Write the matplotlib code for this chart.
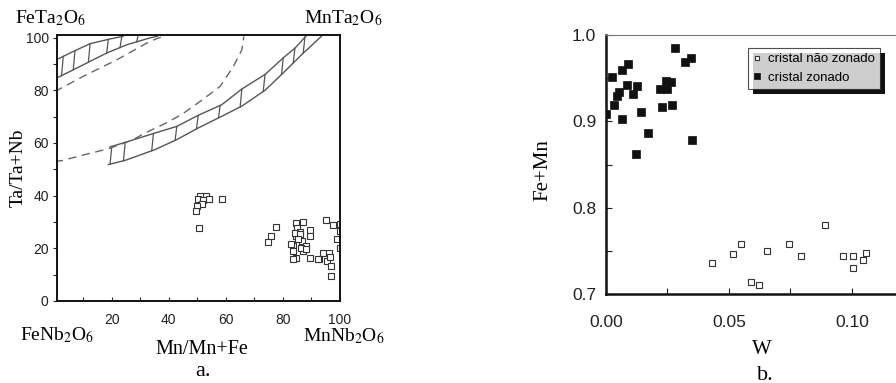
import numpy as np
import matplotlib
matplotlib.use("Agg")
import matplotlib.pyplot as plt
from matplotlib.patches import Rectangle

plt.rcParams['font.family'] = ['Liberation Sans', 'DejaVu Sans']
plt.rcParams['mathtext.fontset'] = 'stix'

# ---------------- Panel a data ----------------
mn_frac = [52.9, 54.0, 51.1, 50.3, 52.0, 51.7, 50.0, 49.6, 58.5, 50.5,
           77.6, 75.9, 74.7,
           84.7, 87.0, 84.9, 85.9, 84.7, 89.6, 89.6, 86.8, 83.5, 88.2, 83.5, 87.0,
           84.5, 89.4, 95.0, 97.4, 100.0, 100.0, 98.8, 100.0, 94.1, 96.2, 92.7,
           95.3, 96.7, 96.7, 84.1, 85.9, 85.3, 82.9, 86.5, 88.2, 83.5, 92.3, 96.5]
ta_frac = [39.9, 38.9, 39.9, 38.6, 38.3, 36.7, 35.9, 34.2, 38.9, 27.9,
           28.2, 24.5, 22.5,
           29.8, 30.0, 27.9, 26.3, 24.7, 26.9, 24.5, 22.8, 21.0, 21.0, 19.1, 19.1,
           16.2, 16.2, 30.8, 28.8, 29.2, 26.6, 23.5, 20.3, 18.2, 18.2, 15.9,
           15.3, 13.1, 9.4, 26.0, 25.4, 23.5, 21.6, 20.3, 19.7, 15.9, 15.9, 16.6]

# hatched band (lower, mid diagram)
band2_up_x = [19.4, 25.8, 35.2, 42.8, 50.3, 58.5, 65.6, 73.7, 80.1, 84.2, 88.0]
band2_up_y = [58.5, 60.6, 63.8, 66.3, 70.5, 74.5, 80.5, 86.0, 92.3, 96.0, 100.5]
band2_lo_x = [18.8, 24.7, 35.2, 42.8, 50.3, 58.5, 65.6, 73.7, 80.1, 87.0, 93.5]
band2_lo_y = [51.8, 53.4, 57.5, 61.3, 65.7, 70.1, 74.0, 80.0, 86.6, 94.0, 100.5]
band2_hatch_x = [20.0, 24.7, 34.6, 42.8, 50.3, 58.0, 65.6, 73.7, 80.1, 84.2, 87.7]

# hatched band (upper left)
band1_up_x = [0.0, 6.6, 12.4, 19.4, 24.0]
band1_up_y = [91.3, 94.8, 97.7, 99.5, 100.5]
band1_lo_x = [0.0, 7.1, 12.4, 18.3, 25.3, 33.4, 36.0]
band1_lo_y = [84.3, 88.1, 91.0, 94.2, 97.3, 99.9, 100.5]
band1_hatch_x = [3.0, 7.1, 12.4, 18.8, 23.5, 29.3]

# dashed curves
dash1_x = [0.0, 10.0, 21.8, 33.4, 38.0]
dash1_y = [79.5, 85.3, 91.6, 98.6, 100.5]
dash2_x = [0.0, 2.5, 10.6, 18.8, 27.0, 31.7, 38.7, 44.5, 51.0, 58.0, 62.6, 65.6, 66.3]
dash2_y = [53.0, 53.3, 55.6, 57.8, 61.0, 63.8, 67.4, 70.8, 75.8, 81.5, 89.0, 95.4, 100.5]

a_xticks = [20, 40, 60, 80, 100]
a_yticks = [0, 20, 40, 60, 80, 100]

# ---------------- Panel b data ----------------
zon_w = [0.0000, 0.0026, 0.0034, 0.0046, 0.0053, 0.0064, 0.0065, 0.0091, 0.0084,
         0.0111, 0.0127, 0.0122, 0.0144, 0.0171, 0.0221, 0.0228, 0.0245, 0.0248,
         0.0263, 0.0270, 0.0282, 0.0321, 0.0347, 0.0350]
zon_femn = [0.909, 0.951, 0.919, 0.929, 0.934, 0.959, 0.903, 0.966, 0.942,
            0.932, 0.941, 0.862, 0.911, 0.887, 0.937, 0.917, 0.947, 0.937,
            0.946, 0.919, 0.985, 0.969, 0.973, 0.878]
nz_w = [0.0432, 0.0516, 0.0550, 0.0588, 0.0623, 0.0656, 0.0743, 0.0794, 0.0889,
        0.0965, 0.1004, 0.1004, 0.1045, 0.1056]
nz_femn = [0.736, 0.746, 0.758, 0.714, 0.710, 0.750, 0.758, 0.744, 0.780,
           0.744, 0.744, 0.730, 0.739, 0.748]
b_xticks = [0.00, 0.05, 0.10]
b_yticks = [0.7, 0.8, 0.9, 1.0]
legend_labels = ['cristal não zonado', 'cristal zonado']

W, H = 896, 383
fig = plt.figure(figsize=(W / 100, H / 100), dpi=100)

def fx(px):
    return px / W

def fy(py):
    return 1 - py / H

# ---------------- Panel a ----------------
axa = fig.add_axes([fx(57), fy(301), fx(340) - fx(57), fy(35) - fy(301)])
axa.set_xlim(0.8, 100)
axa.set_ylim(0, 101)
lc = '#555555'
axa.plot(band2_up_x, band2_up_y, color=lc, lw=1.0)
axa.plot(band2_lo_x, band2_lo_y, color=lc, lw=1.0)
for hx in band2_hatch_x:
    yl = np.interp(hx - 0.6, band2_lo_x, band2_lo_y)
    yu = min(np.interp(hx, band2_up_x, band2_up_y), 101)
    axa.plot([hx - 0.6, hx], [yl, yu], color=lc, lw=0.9)
axa.plot(band1_up_x, band1_up_y, color=lc, lw=1.0)
axa.plot(band1_lo_x, band1_lo_y, color=lc, lw=1.0)
for hx in band1_hatch_x:
    yl = np.interp(hx - 0.6, band1_lo_x, band1_lo_y)
    yu = np.interp(hx, band1_up_x, band1_up_y) if hx <= band1_up_x[-1] else 101
    axa.plot([hx - 0.6, hx], [yl, yu], color=lc, lw=0.9)
axa.plot(dash1_x, dash1_y, color='#666666', lw=1.0, ls=(0, (6, 4)))
axa.plot(dash2_x, dash2_y, color='#666666', lw=1.0, ls=(0, (6, 4)))

axa.plot(mn_frac, ta_frac, ls='none', marker='s', ms=4.6, mfc='white',
         mec='#333333', mew=0.8)

axa.set_xticks(a_xticks)
axa.set_xticks([10, 30, 50, 70, 90], minor=True)
axa.set_yticks(a_yticks)
axa.set_yticks([10, 30, 50, 70, 90], minor=True)
axa.tick_params(axis='x', which='both', direction='in', length=3, width=0.8,
                labelsize=10, pad=9, colors='#222222')
axa.tick_params(axis='y', which='both', direction='out', length=3, width=0.8,
                labelsize=10, pad=3, colors='#222222')
for s in axa.spines.values():
    s.set_linewidth(1.4)
    s.set_color('#111111')

serif = ['Liberation Serif', 'DejaVu Serif']
fig.text(fx(15), fy(18), r'FeTa$_2$O$_6$', family=serif, fontsize=14, ha='left', va='center')
fig.text(fx(304), fy(18), r'MnTa$_2$O$_6$', family=serif, fontsize=14, ha='left', va='center')
fig.text(fx(20), fy(335), r'FeNb$_2$O$_6$', family=serif, fontsize=14, ha='left', va='center')
fig.text(fx(303), fy(336), r'MnNb$_2$O$_6$', family=serif, fontsize=14, ha='left', va='center')
fig.text(fx(202), fy(350), 'Mn/Mn+Fe', family=serif, fontsize=14.5, ha='center', va='center')
fig.text(fx(203), fy(372), 'a.', family=serif, fontsize=16, ha='center', va='center')
fig.text(fx(18), fy(168), 'Ta/Ta+Nb', family=serif, fontsize=14, ha='center', va='center',
         rotation=90)

# ---------------- Panel b ----------------
axb = fig.add_axes([fx(606), fy(294), fx(901) - fx(606), fy(35) - fy(294)])
axb.set_xlim(0, 0.12)
axb.set_ylim(0.7, 1.0)
h_nz, = axb.plot(nz_w, nz_femn, ls='none', marker='s', ms=4.4, mfc='white',
                 mec='#333333', mew=0.8)
h_z, = axb.plot(zon_w, zon_femn, ls='none', marker='s', ms=5.2, mfc='#111111',
                mec='#111111', mew=0.5)
axb.set_xticks(b_xticks)
axb.set_xticks([0.025, 0.075], minor=True)
axb.set_yticks(b_yticks)
axb.set_yticks([0.75, 0.85, 0.95], minor=True)
axb.set_xticklabels(['%.2f' % v for v in b_xticks])
axb.set_yticklabels(['%.1f' % v for v in b_yticks])
axb.tick_params(axis='x', which='both', direction='in', length=4, width=0.8,
                labelsize=12.5, pad=15, colors='#222222')
axb.tick_params(axis='y', which='both', direction='in', length=4, width=0.8,
                labelsize=12.5, pad=7, colors='#222222')
axb.spines['left'].set_linewidth(1.8)
axb.spines['bottom'].set_linewidth(1.8)
axb.spines['left'].set_color('#111111')
axb.spines['bottom'].set_color('#111111')
axb.spines['top'].set_linewidth(0.8)
axb.spines['top'].set_color('#777777')
axb.spines['right'].set_visible(False)

leg = axb.legend([h_nz, h_z], legend_labels, loc='upper left',
                 bbox_to_anchor=(0.481, 0.95), borderaxespad=0, fontsize=9.5,
                 frameon=True, fancybox=False, shadow=False, markerscale=0.7,
                 handlelength=0.6, handletextpad=0.5, labelspacing=0.45,
                 borderpad=0.4)
leg.get_frame().set_edgecolor('#222222')
leg.get_frame().set_linewidth(0.8)
leg.set_zorder(5)

fig.text(fx(543), fy(170), 'Fe+Mn', family=serif, fontsize=15, ha='center', va='center',
         rotation=90)
fig.text(fx(762), fy(350), 'W', family=serif, fontsize=15, ha='center', va='center')
fig.text(fx(765), fy(375), 'b.', family=serif, fontsize=16, ha='center', va='center')

# shadow behind legend
fig.canvas.draw()
bb = leg.get_window_extent()
off = 5
shadow = Rectangle((bb.x0 + off, bb.y0 - off), bb.width, bb.height,
                   transform=None, facecolor='#111111', edgecolor='none', zorder=4)
fig.add_artist(shadow)
leg.remove()
fig.add_artist(leg)

fig.savefig('out.png', dpi=100)
